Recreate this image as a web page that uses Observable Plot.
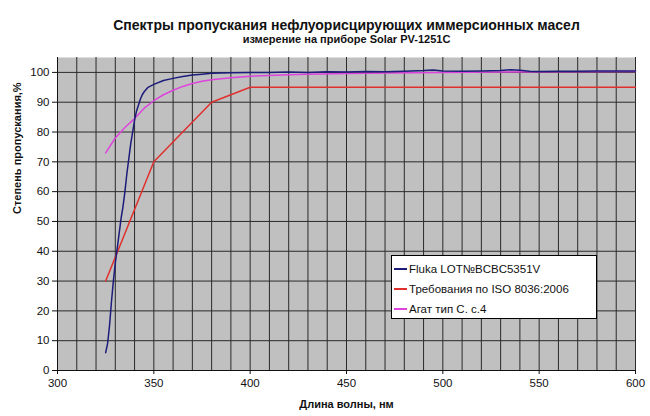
<!DOCTYPE html>
<html><head><meta charset="utf-8">
<script src="https://cdn.jsdelivr.net/npm/d3@7"></script>
<script src="https://cdn.jsdelivr.net/npm/@observablehq/plot@0.6"></script>
<style>
body{margin:0;background:#fff;}
#wrap{position:relative;width:650px;height:416px;font-family:"Liberation Sans",Arial,sans-serif;}
#legend{position:absolute;left:391px;top:255px;width:206px;height:64px;background:#fff;border:1px solid #000;box-sizing:border-box;font-size:11.5px;color:#111;padding-top:3px;}
#legend .row{display:flex;align-items:center;height:20px;padding-left:2px;}
#legend .sw{display:inline-block;width:13px;height:2px;margin-right:2px;}
</style>
</head><body>
<div id="wrap"><div id="chart"></div>
<div id="legend"></div></div>
<script>
const seriesNames = ["Fluka LOT№BCBC5351V", "Требования по ISO 8036:2006", "Агат тип С. с.4"];
const seriesColors = ["#1c1c7a", "#e0302e", "#dd44dd"];

const flukaNm = [325,326,327,328,329,330,331,332,333,334,335,336,337,338,339,340,341,342,343,344,345,347,350,355,360,365,370,375,380,390,400,410,420,430,440,450,460,470,480,490,495,500,510,520,530,535,540,545,550,560,570,580,590,600];
const flukaT  = [6,9,15,23,30,36,41,46,51,55,60,66,71,76,80,84,87,89,91,92.5,93.5,95,96,97.3,98,98.6,99.1,99.4,99.7,99.9,100,100,100.1,100,100.2,100.1,100.3,100.2,100.4,100.6,100.8,100.5,100.4,100.5,100.6,100.9,100.7,100.4,100.3,100.4,100.4,100.5,100.5,100.5];

const isoNm = [325,350,380,400,600];
const isoT  = [30,70,90,95,95];

const agatNm = [325,330,335,340,345,350,355,360,365,370,375,380,390,400,410,420,430,450,470,500,530,560,600];
const agatT  = [73,78,81.5,84.5,88,90.5,92.5,94,95.3,96.3,97,97.5,98.2,98.7,99,99.2,99.4,99.6,99.8,100,100.1,100.2,100.3];

const xTicks = [300,350,400,450,500,550,600];
const yTicks = [0,10,20,30,40,50,60,70,80,90,100];
const xGrid = d3.range(310, 601, 10);
const yGrid = d3.range(10, 101, 10);

const title = "Спектры пропускания нефлуорисцирующих иммерсионных масел";
const subtitle = "измерение на приборе Solar PV-1251C";
const xLabel = "Длина волны, нм";
const yLabel = "Степень пропускания,%";

const toRows = (nm, t, s) => nm.map((x, i) => ({nm: x, t: t[i], s}));
const fluka = toRows(flukaNm, flukaT, seriesNames[0]);
const iso = toRows(isoNm, isoT, seriesNames[1]);
const agat = toRows(agatNm, agatT, seriesNames[2]);

const font = '"Liberation Sans", Arial, sans-serif';

const chart = Plot.plot({
  width: 650, height: 416,
  marginLeft: 57, marginRight: 15, marginTop: 57, marginBottom: 46,
  x: {domain: [300, 600]},
  y: {domain: [0, 105]},
  style: {fontFamily: font, fontSize: "11.5px", color: "#111", background: "transparent"},
  marks: [
    Plot.frame({fill: "#c0c0c0", stroke: null}),
    Plot.ruleX(xGrid, {stroke: "#2a2a2a", strokeWidth: 1}),
    Plot.ruleY(yGrid, {stroke: "#2a2a2a", strokeWidth: 1}),
    Plot.axisX({ticks: xTicks, tickSize: 4, tickPadding: 4, label: null, fontSize: 11.5}),
    Plot.axisY({ticks: yTicks, tickSize: 5, tickPadding: 3, label: null, fontSize: 11.5}),
    Plot.ruleX([300], {stroke: "#111"}),
    Plot.ruleY([0], {stroke: "#111"}),
    Plot.line(agat, {x: "nm", y: "t", stroke: seriesColors[2], strokeWidth: 1.5}),
    Plot.line(iso, {x: "nm", y: "t", stroke: seriesColors[1], strokeWidth: 1.5}),
    Plot.line(fluka, {x: "nm", y: "t", stroke: seriesColors[0], strokeWidth: 1.5}),
    Plot.text([title], {frameAnchor: "top", dy: -37, fontSize: 14, fontWeight: "bold", fill: "#111"}),
    Plot.text([subtitle], {frameAnchor: "top", dy: -22, fontSize: 11, fontWeight: "bold", fill: "#111"}),
    Plot.text([xLabel], {frameAnchor: "bottom", dy: 37, fontSize: 11, fontWeight: "bold", fill: "#111"}),
    Plot.text([yLabel], {frameAnchor: "left", dx: -40, rotate: -90, fontSize: 11, fontWeight: "bold", fill: "#111"})
  ]
});
document.getElementById("chart").appendChild(chart);

const legend = document.getElementById("legend");
seriesNames.forEach((n, i) => {
  const row = document.createElement("div");
  row.className = "row";
  const sw = document.createElement("span");
  sw.className = "sw";
  sw.style.background = seriesColors[i];
  const tx = document.createElement("span");
  tx.textContent = n;
  row.appendChild(sw); row.appendChild(tx);
  legend.appendChild(row);
});
</script>
</body></html>
